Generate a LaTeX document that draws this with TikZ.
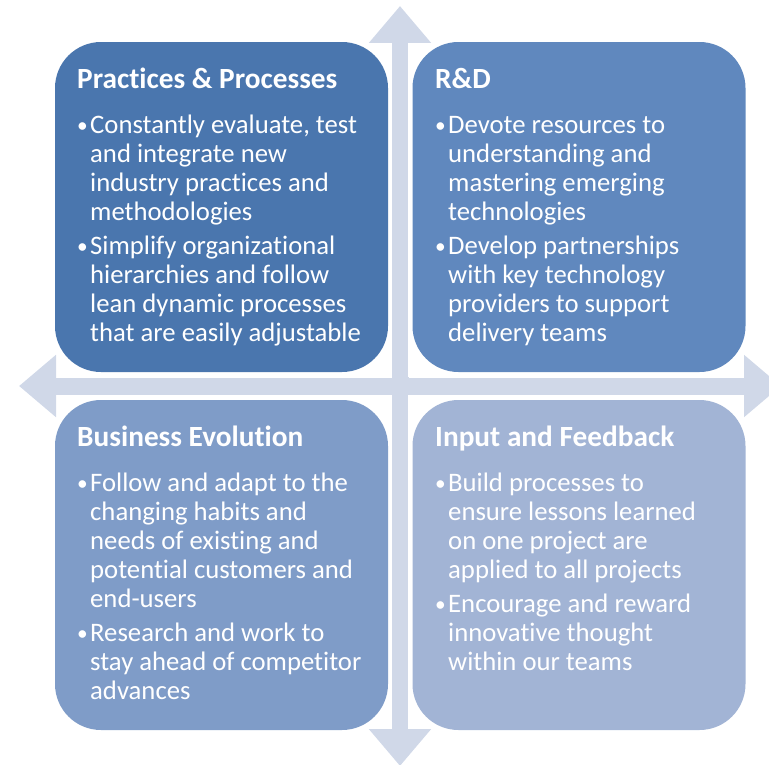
\documentclass[tikz,border=0pt]{standalone}
\usepackage{fontspec}
\setmainfont{Carlito}[Ligatures=NoCommon]
\usetikzlibrary{arrows.meta}

\definecolor{crossgray}{HTML}{D0D8E8}
\definecolor{ppblue}{HTML}{4A76AE}
\definecolor{rdblue}{HTML}{6088BE}
\definecolor{beblue}{HTML}{7F9CC8}
\definecolor{ifblue}{HTML}{A2B4D5}

\newcommand{\bitem}[1]{\par\hangindent=13pt\hangafter=1\noindent\makebox[13pt][l]{\raisebox{0.5pt}{\scalebox{0.8}{\textbullet}}}#1\par}
\newcommand{\bodybox}[1]{\parbox[t]{320pt}{\raggedright\setlength{\parskip}{5pt}#1}}

\tikzset{
  crossarrow/.style={line width=17pt, color=crossgray,
    {Triangle[width=60pt,length=37pt]}-{Triangle[width=60pt,length=37pt]}},
  quadback/.style={rectangle, fill=white, minimum width=335pt, minimum height=334pt, inner sep=0pt},
  quadbox/.style={rectangle, rounded corners=46pt, minimum width=333pt, minimum height=330pt, inner sep=0pt},
  quadtitle/.style={anchor=base west, inner sep=0pt, text=white, font=\fontsize{29.3}{35}\selectfont\bfseries},
  quadbody/.style={anchor=base west, inner sep=0pt, text=white, font=\fontsize{26.7}{29}\selectfont}
}

\begin{document}
\begin{tikzpicture}[x=1pt,y=-1pt]
  \useasboundingbox (0,0) rectangle (769,764);

  \coordinate (top) at (400,6);
  \coordinate (bottom) at (400,766);
  \coordinate (left) at (19,386);
  \coordinate (right) at (781,386);

  \draw[crossarrow] (top) -- (bottom);
  \draw[crossarrow] (left) -- (right);

  \begin{scope}[every node/.style={quadback}]
    \node (ppback) at (224.5,210) {};
    \node (rdback) at (575.5,210) {};
    \node (beback) at (224.5,562) {};
    \node (ifback) at (575.5,562) {};
  \end{scope}

  \begin{scope}[every node/.style={quadbox}]
    \node (pp) [fill=ppblue] at (221.5,207) {};
    \node (rd) [fill=rdblue] at (579,207) {};
    \node (be) [fill=beblue] at (221.5,565) {};
    \node (if) [fill=ifblue] at (579,565) {};
  \end{scope}

  \node (pptitle) [quadtitle] at (77,88) {Practices \& Processes};
  \node (rdtitle) [quadtitle] at (435,88) {R\&D};
  \node (betitle) [quadtitle] at (77,446) {Business Evolution};
  \node (iftitle) [quadtitle] at (435,446) {Input and Feedback};

  \node (ppbody) [quadbody] at (77,133) {\bodybox{%
    \bitem{Constantly evaluate, test\newline and integrate new\newline industry practices and\newline methodologies}%
    \bitem{Simplify organizational\newline hierarchies and follow\newline lean dynamic processes\newline that are easily adjustable}}};
  \node (rdbody) [quadbody] at (435,133) {\bodybox{%
    \bitem{Devote resources to\newline understanding and\newline mastering emerging\newline technologies}%
    \bitem{Develop partnerships\newline with key technology\newline providers to support\newline delivery teams}}};
  \node (bebody) [quadbody] at (77,491) {\bodybox{%
    \bitem{Follow and adapt to the\newline changing habits and\newline needs of existing and\newline potential customers and\newline end-users}%
    \bitem{Research and work to\newline stay ahead of competitor\newline advances}}};
  \node (ifbody) [quadbody] at (435,491) {\bodybox{%
    \bitem{Build processes to\newline ensure lessons learned\newline on one project are\newline applied to all projects}%
    \bitem{Encourage and reward\newline innovative thought\newline within our teams}}};
\end{tikzpicture}
\end{document}
